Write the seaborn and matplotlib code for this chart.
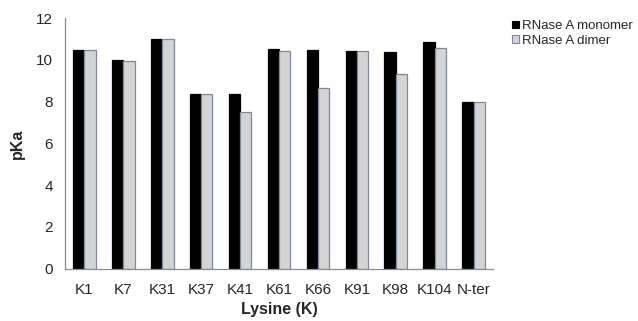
import matplotlib.pyplot as plt
import seaborn as sns
import pandas as pd
from matplotlib.ticker import FixedLocator

lysines = ["K1", "K7", "K31", "K37", "K41", "K61", "K66", "K91", "K98", "K104", "N-ter"]
monomer = [10.46, 9.98, 10.99, 8.34, 8.34, 10.54, 10.48, 10.42, 10.37, 10.83, 7.97]
dimer = [10.46, 9.93, 10.98, 8.34, 7.51, 10.42, 8.65, 10.42, 9.30, 10.55, 7.98]
series = ["RNase A monomer", "RNase A dimer"]

df = pd.DataFrame({
    "Lysine": lysines * 2,
    "pKa": monomer + dimer,
    "form": [series[0]] * len(lysines) + [series[1]] * len(lysines),
})

sns.set_style("white")
plt.rcParams["font.family"] = ["Liberation Sans", "DejaVu Sans"]

fig = plt.figure(figsize=(6.38, 3.21), dpi=100)
ax = fig.add_axes([65 / 638, 1 - 268.7 / 321, 428 / 638, 250.7 / 321])

face = {series[0]: "#000000", series[1]: "#d1d4d7"}
edge = {series[0]: "#000000", series[1]: "#7d8899"}

sns.barplot(
    data=df, x="Lysine", y="pKa", hue="form", palette=face,
    width=0.58, ax=ax, legend=True,
)
edges = [edge[series[0]]] * len(lysines) + [edge[series[1]]] * len(lysines)
for bar, ec in zip(ax.patches, edges):
    bar.set_edgecolor(ec)
    bar.set_linewidth(0.9)

ax.set_ylim(0, 12)
ax.set_xlim(-0.5, len(lysines) - 0.5)
ax.set_yticks(range(0, 13, 2))
ax.xaxis.set_minor_locator(FixedLocator([i - 0.5 for i in range(len(lysines) + 1)]))
ax.tick_params(axis="x", which="major", length=0, labelsize=11, pad=10)
ax.tick_params(axis="x", which="minor", length=5, color="#8c8c8c", width=0.9, direction="out")
ax.tick_params(axis="y", length=5, color="#8c8c8c", width=0.9, labelsize=11, direction="out")

for side in ["top", "right"]:
    ax.spines[side].set_visible(False)
for side in ["left", "bottom"]:
    ax.spines[side].set_color("#8c8c8c")
    ax.spines[side].set_linewidth(0.9)

ax.set_xlabel("Lysine (K)", fontsize=11.5, fontweight="bold", labelpad=4)
ax.set_ylabel("pKa", fontsize=11.5, fontweight="bold", labelpad=8)

handles, labels = ax.get_legend_handles_labels()
ax.get_legend().remove()
for h, lab in zip(handles, labels):
    h.set_edgecolor(edge[lab])
    h.set_linewidth(0.8)
fig.legend(
    handles, labels, loc="upper left", bbox_to_anchor=(512 / 638, 1 - 20 / 321),
    frameon=False, fontsize=9.5, handlelength=0.5, handleheight=0.5,
    handletextpad=0.25, labelspacing=0.2, borderpad=0, borderaxespad=0,
)

fig.savefig("out.png", dpi=100)
